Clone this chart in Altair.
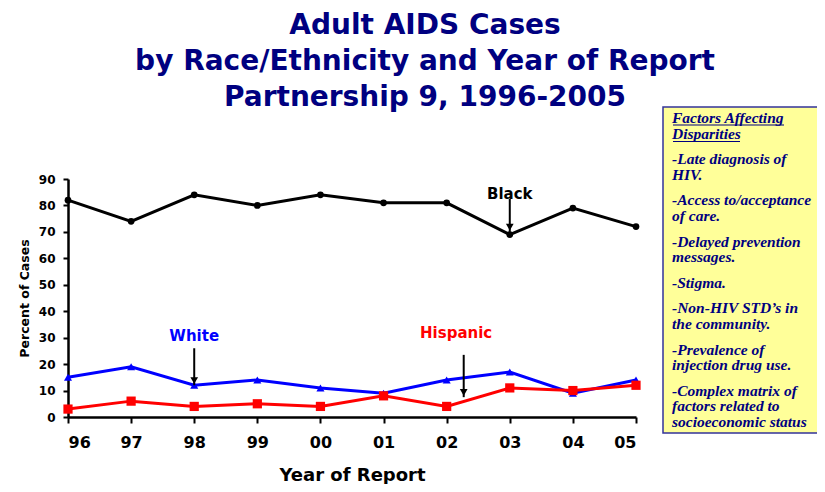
import altair as alt
import pandas as pd

# ---- data ----
years = [1996, 1997, 1998, 1999, 2000, 2001, 2002, 2003, 2004, 2005]
black = [82, 74, 84, 80, 84, 81, 81, 69, 79, 72]
white = [15, 19, 12, 14, 11, 9, 14, 17, 9, 14]
hispanic = [3, 6, 4, 5, 4, 8, 4, 11, 10, 12]
series_names = ["Black", "White", "Hispanic"]
series_colors = ["#000000", "#0000FF", "#FF0000"]
series_shapes = ["circle", "triangle-up", "square"]
series_sizes = [45, 85, 80]

title_lines = ["Adult AIDS Cases",
               "by Race/Ethnicity and Year of Report",
               "Partnership 9, 1996-2005"]

# annotation labels: name, x (year), label y, arrow top, arrow tip (percent)
ann_names = ["Black", "White", "Hispanic"]
ann_x = [2003, 1998, 2002.27]
ann_text_x = [2003, 1998, 2002.15]
ann_text_y = [84.5, 30.5, 31.8]
ann_top = [82.5, 26, 23.5]
ann_tip = [70, 12, 7.5]

box_paragraphs = [
    ["Factors Affecting", "Disparities"],
    ["-Late diagnosis of", "HIV."],
    ["-Access to/acceptance", "of care."],
    ["-Delayed prevention", "messages."],
    ["-Stigma."],
    ["-Non-HIV STD\u2019s in", "the community."],
    ["-Prevalence of", "injection drug use."],
    ["-Complex matrix of", "factors related to", "socioeconomic status"],
]

# ---- tables ----
rows = []
for name, vals in zip(series_names, [black, white, hispanic]):
    for y, v in zip(years, vals):
        rows.append({"year": y, "pct": v, "series": name})
df = pd.DataFrame(rows)

ann = pd.DataFrame({"name": ann_names, "x": ann_x, "tx": ann_text_x,
                    "ty": ann_text_y, "top": ann_top, "tip": ann_tip})
ann["head"] = ann["tip"] + 1.8

# text box lines (pixel layout relative to plot area)
box_rows = []
py = -61.0
for pi, para in enumerate(box_paragraphs):
    if pi > 0:
        py += 25.5
    for li, line in enumerate(para):
        if li > 0:
            py += 15.7
        box_rows.append({"text": line, "py": py})
box_df = pd.DataFrame(box_rows)

title_df = pd.DataFrame({"text": title_lines,
                         "py": [-145 + 36 * i for i in range(len(title_lines))]})

W, H = 568, 238
PAD_L, PAD_T = 60, 171
TOTAL_W, TOTAL_H = 809, 476
SANS = "DejaVu Sans"

color_scale = alt.Scale(domain=series_names, range=series_colors)
shape_scale = alt.Scale(domain=series_names, range=series_shapes)
size_scale = alt.Scale(domain=series_names, range=series_sizes)
x_scale = alt.Scale(domain=[1996, 2005], nice=False)
y_scale = alt.Scale(domain=[0, 90], nice=False)
x_axis = alt.Axis(values=years, labelExpr="slice(toString(datum.value), 2)",
                  title="Year of Report", labelFontSize=16, titleFontSize=18,
                  titlePadding=16, labelPadding=11)
y_axis = alt.Axis(values=list(range(0, 91, 10)), title="Percent of Cases",
                  labelFontSize=12, titleFontSize=12.5, titlePadding=7,
                  labelPadding=8, labelOverlap=False, tickSize=5)


def X(field):
    return alt.X(field, type="quantitative", scale=x_scale, axis=x_axis)


def Y(field):
    return alt.Y(field, type="quantitative", scale=y_scale, axis=y_axis)


lines = alt.Chart(df).mark_line(strokeWidth=3).encode(
    x=X("year"), y=Y("pct"),
    color=alt.Color("series:N", scale=color_scale, legend=None),
    detail="series:N")

points = alt.Chart(df).mark_point(filled=True, opacity=1).encode(
    x=X("year"), y=Y("pct"),
    color=alt.Color("series:N", scale=color_scale, legend=None),
    shape=alt.Shape("series:N", scale=shape_scale, legend=None),
    size=alt.Size("series:N", scale=size_scale, legend=None))

ann_text = alt.Chart(ann).mark_text(fontSize=15, fontWeight="bold",
                                    font=SANS).encode(
    x=X("tx"), y=Y("ty"), text="name:N",
    color=alt.Color("name:N", scale=color_scale, legend=None))

ann_rule = alt.Chart(ann).mark_rule(color="black", strokeWidth=2).encode(
    x=X("x"), y=Y("top"), y2="tip:Q")

ann_head = alt.Chart(ann).mark_point(shape="triangle-down", filled=True,
                                     color="black", opacity=1, size=60).encode(
    x=X("x"), y=Y("head"))

box = alt.Chart(pd.DataFrame({"a": [0]})).mark_rect(
    fill="#FFFF99", stroke="#333399", strokeWidth=1.5).encode(
    x=alt.value(595), x2=alt.value(TOTAL_W - PAD_L + 5),
    y=alt.value(-72), y2=alt.value(254))

box_text = alt.Chart(box_df).mark_text(
    align="left", baseline="middle", font="Liberation Serif", fontSize=15.5,
    fontStyle="italic", fontWeight="bold", color="#000080").encode(
    x=alt.value(604), y=alt.Y("py:Q", scale=None, axis=None), text="text:N")

ul_df = pd.DataFrame({"x1": [605, 605], "x2": [716, 672], "py": [-54, -37.5]})
underline = alt.Chart(ul_df).mark_rule(color="#000080", strokeWidth=1.2).encode(
    x=alt.X("x1:Q", scale=None, axis=None), x2="x2:Q",
    y=alt.Y("py:Q", scale=None, axis=None))

title_text = alt.Chart(title_df).mark_text(
    align="center", baseline="alphabetic", font=SANS, fontSize=28,
    fontWeight="bold", color="#000080").encode(
    x=alt.value(357), y=alt.Y("py:Q", scale=None, axis=None), text="text:N")

chart = alt.layer(box, box_text, underline, title_text, lines, points, ann_rule,
                  ann_head, ann_text).properties(
    width=W, height=H,
    autosize=alt.AutoSizeParams(type="none"),
    padding={"left": PAD_L, "top": PAD_T,
             "right": TOTAL_W - PAD_L - W, "bottom": TOTAL_H - PAD_T - H},
).configure_view(stroke=None).configure_axis(
    grid=False, domainColor="black", domainWidth=2.5, tickColor="black",
    tickWidth=2, tickSize=6, labelFont=SANS, labelFontWeight="bold",
    labelColor="black", titleFont=SANS, titleFontWeight="bold",
    titleColor="black")

chart.save("out.html", embed_options={"renderer": "svg", "actions": False})
